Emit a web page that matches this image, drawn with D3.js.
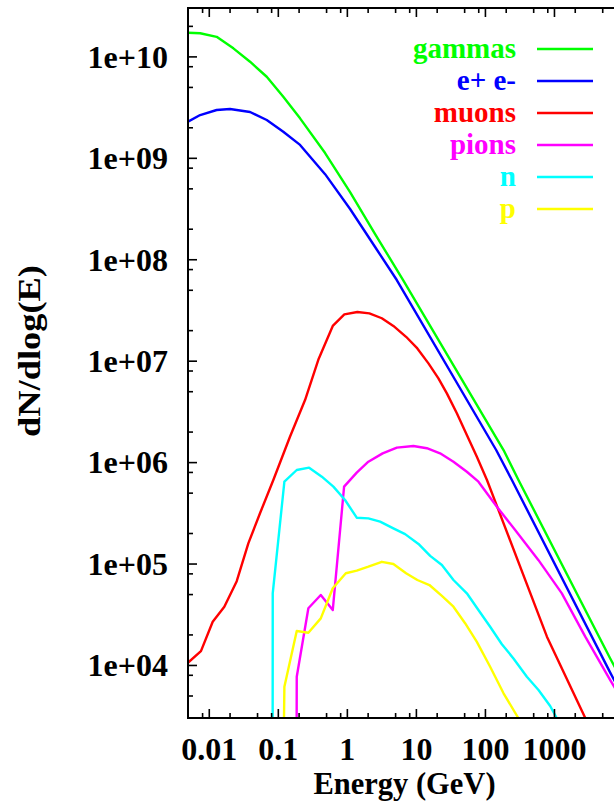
<!DOCTYPE html>
<html>
<head>
<meta charset="utf-8">
<script src="https://cdn.jsdelivr.net/npm/d3@7"></script>
<style>
  html, body { margin: 0; padding: 0; background: #fff; }
  svg { display: block; }
  text { font-family: "Liberation Serif", "DejaVu Serif", serif; font-weight: bold; }
</style>
</head>
<body>
<svg id="chart" width="614" height="803"></svg>
<script>
// Particle spectra: energy (GeV) vs dN/dlog(E), one [E, value] list per species.
const gammas = [
  [0.005, 1.71e10], [0.0075, 1.69e10], [0.013, 1.56e10], [0.0227, 1.20e10],
  [0.0396, 8.86e9], [0.0691, 6.30e9], [0.120, 4.0e9], [0.21, 2.45e9],
  [0.484, 1.115e9], [1.114, 4.6e8], [2.566, 1.77e8], [6.53, 6.24e7],
  [186, 1.315e6], [306, 6.67e5], [6530, 1.16e4], [11000, 6.0e3]
];
const electrons = [
  [0.005, 2.27e9], [0.0075, 2.64e9], [0.013, 2.96e9], [0.0203, 3.03e9],
  [0.0396, 2.83e9], [0.0691, 2.36e9], [0.120, 1.81e9], [0.21, 1.34e9],
  [0.484, 6.9e8], [1.114, 3.13e8], [2.566, 1.32e8], [5.29, 6.24e7],
  [145.5, 1.316e6], [245.7, 6.66e5], [6530, 8.4e3], [11000, 4.3e3]
];
const muons = [
  [0.00489, 1.04e4], [0.0077, 1.37e4], [0.0114, 2.67e4], [0.0168, 3.75e4],
  [0.0254, 6.7e4], [0.0374, 1.58e5], [0.0552, 3.13e5], [0.0861, 6.67e5],
  [0.150, 1.78e6], [0.248, 4.09e6], [0.386, 1.02e7], [0.625, 2.2e7],
  [0.92, 2.86e7], [1.42, 3.02e7], [2.12, 2.93e7], [3.21, 2.62e7],
  [4.72, 2.2e7], [7.21, 1.72e7], [10.5, 1.32e7], [15.2, 9.4e6],
  [21.2, 6.7e6], [28.1, 4.76e6], [39.2, 3.03e6], [54.7, 1.85e6],
  [76.4, 1.13e6], [107, 6.67e5], [791, 1.9e4], [2840, 3.0e3], [4680, 890]
];
const pions = [
  [0.186, 300], [0.188, 7.66e3], [0.277, 3.62e4], [0.419, 4.9e4],
  [0.625, 3.48e4], [0.912, 5.73e5], [1.39, 7.87e5], [2.05, 1.01e6],
  [3.3, 1.22e6], [5.3, 1.39e6], [9.2, 1.44e6], [14.4, 1.37e6],
  [22.4, 1.22e6], [35, 1.01e6], [54.7, 8.04e5], [80.5, 6.41e5],
  [149, 3.63e5], [274, 2.14e5], [597, 1.08e5], [1300, 5.08e4],
  [2840, 1.9e4], [6530, 7.1e3], [11000, 3.9e3]
];
const neutrons = [
  [0.0840, 300], [0.0844, 5.09e4], [0.1245, 6.41e5], [0.188, 8.36e5],
  [0.284, 8.81e5], [0.434, 7.18e5], [0.638, 5.73e5], [0.942, 4.23e5],
  [1.39, 2.83e5], [2.05, 2.79e5], [3.03, 2.59e5], [4.72, 2.22e5],
  [6.98, 1.95e5], [10.9, 1.56e5], [16.1, 1.19e5], [23.8, 9.66e4],
  [35, 6.88e4], [54.7, 5.09e4], [80.5, 3.48e4], [119, 2.38e4],
  [176, 1.6e4], [259, 1.16e4], [405, 7.66e3], [597, 5.66e3],
  [881, 3.94e3], [1100, 2.98e3], [1320, 1.8e3]
];
const protons = [
  [0.119, 500], [0.1245, 6.1e3], [0.188, 2.16e4], [0.277, 2.08e4],
  [0.419, 2.88e4], [0.625, 5.7e4], [0.966, 8.02e4], [1.39, 8.5e4],
  [2.05, 9.3e4], [3.21, 1.04e5], [4.72, 9.9e4], [7.21, 8.02e4],
  [10.5, 6.88e4], [15.7, 6.14e4], [23.8, 4.79e4], [35, 3.75e4],
  [51.6, 2.58e4], [76.4, 1.69e4], [119, 9.6e3], [186, 5.26e3],
  [306, 2.98e3], [383, 2.0e3]
];

const seriesNames = ["gammas", "e+ e-", "muons", "pions", "n", "p"];
const seriesColors = ["#00ff00", "#0000ff", "#ff0000", "#ff00ff", "#00ffff", "#ffff00"];
const seriesData = [gammas, electrons, muons, pions, neutrons, protons];

const energyTicks = [0.01, 0.1, 1, 10, 100, 1000];
const energyTickLabels = ["0.01", "0.1", "1", "10", "100", "1000"];
const countTicks = [1e4, 1e5, 1e6, 1e7, 1e8, 1e9, 1e10];
const countTickLabels = ["1e+04", "1e+05", "1e+06", "1e+07", "1e+08", "1e+09", "1e+10"];
const minorMultipliers = [2, 5, 8];

const xTitle = "Energy (GeV)";
const yTitle = "dN/dlog(E)";

// Plot frame
const plot = { left: 188, right: 623, top: 8, bottom: 718 };
const svg = d3.select("#chart");

const x = d3.scaleLog().domain([0.005, 1e4]).range([plot.left, plot.right]);
const y = d3.scaleLog().domain([3e3, 3e10]).range([plot.bottom, plot.top]);

function minorsFor(domain) {
  const out = [];
  const lo = Math.floor(Math.log10(domain[0])), hi = Math.ceil(Math.log10(domain[1]));
  for (let e = lo; e <= hi; e++) {
    minorMultipliers.forEach(m => {
      const v = m * Math.pow(10, e);
      if (v > domain[0] && v < domain[1]) out.push(v);
    });
  }
  return out;
}
const xMinor = minorsFor(x.domain());
const yMinor = minorsFor(y.domain());

svg.append("defs").append("clipPath").attr("id", "plot-clip")
  .append("rect")
  .attr("x", plot.left).attr("y", plot.top)
  .attr("width", plot.right - plot.left).attr("height", plot.bottom - plot.top);

// Curves
const line = d3.line().x(d => x(d[0])).y(d => y(d[1]));
const curves = svg.append("g").attr("clip-path", "url(#plot-clip)");
seriesData.forEach((data, i) => {
  curves.append("path")
    .datum(data)
    .attr("d", line)
    .attr("fill", "none")
    .attr("stroke", seriesColors[i])
    .attr("stroke-width", 2.4)
    .attr("stroke-linejoin", "round");
});

// Ticks on all four sides, pointing into the plot
function styleAxis(g) {
  g.select(".domain").remove();
  g.selectAll(".tick line").attr("stroke", "#000").attr("stroke-width", 1.6);
}
const majorLen = 9, minorLen = 5;
const labelFont = 32;
const legendFont = 29;

svg.append("g").attr("transform", `translate(0,${plot.bottom})`)
  .call(d3.axisBottom(x).tickValues(xMinor).tickSize(-minorLen).tickFormat(""))
  .call(styleAxis);
const xAxisMajor = svg.append("g").attr("transform", `translate(0,${plot.bottom})`)
  .call(d3.axisBottom(x).tickValues(energyTicks).tickSize(-majorLen).tickPadding(0)
    .tickFormat((d, i) => energyTickLabels[i]))
  .call(styleAxis);
xAxisMajor.selectAll(".tick text")
  .attr("y", 42).attr("dy", null)
  .attr("fill", "#000").attr("font-size", labelFont)
  .style("font-family", "'Liberation Serif', serif").style("font-weight", "bold");

svg.append("g").attr("transform", `translate(0,${plot.top})`)
  .call(d3.axisTop(x).tickValues(xMinor).tickSize(-minorLen).tickFormat(""))
  .call(styleAxis);
svg.append("g").attr("transform", `translate(0,${plot.top})`)
  .call(d3.axisTop(x).tickValues(energyTicks).tickSize(-majorLen).tickFormat(""))
  .call(styleAxis);

svg.append("g").attr("transform", `translate(${plot.left},0)`)
  .call(d3.axisLeft(y).tickValues(yMinor).tickSize(-minorLen).tickFormat(""))
  .call(styleAxis);
const yAxisMajor = svg.append("g").attr("transform", `translate(${plot.left},0)`)
  .call(d3.axisLeft(y).tickValues(countTicks).tickSize(-majorLen).tickPadding(20)
    .tickFormat((d, i) => countTickLabels[i]))
  .call(styleAxis);
yAxisMajor.selectAll(".tick text")
  .attr("x", -20).attr("dy", "0.34em")
  .attr("fill", "#000").attr("font-size", labelFont)
  .style("font-family", "'Liberation Serif', serif").style("font-weight", "bold");

svg.append("g").attr("transform", `translate(${plot.right},0)`)
  .call(d3.axisRight(y).tickValues(yMinor).tickSize(-minorLen).tickFormat(""))
  .call(styleAxis);
svg.append("g").attr("transform", `translate(${plot.right},0)`)
  .call(d3.axisRight(y).tickValues(countTicks).tickSize(-majorLen).tickFormat(""))
  .call(styleAxis);

// Frame
svg.append("rect")
  .attr("x", plot.left).attr("y", plot.top)
  .attr("width", plot.right - plot.left).attr("height", plot.bottom - plot.top)
  .attr("fill", "none").attr("stroke", "#000").attr("stroke-width", 2);

// Axis titles
svg.append("text")
  .attr("x", (plot.left + plot.right) / 2 - 1).attr("y", 794)
  .attr("text-anchor", "middle").attr("font-size", 30.5)
  .text(xTitle);
svg.append("text")
  .attr("transform", "translate(40,351) rotate(-90)")
  .attr("text-anchor", "middle").attr("font-size", 32)
  .attr("textLength", 172).attr("lengthAdjust", "spacingAndGlyphs")
  .text(yTitle);

// Legend
const legend = svg.append("g");
const legendTop = 49, legendStep = 32;
seriesNames.forEach((name, i) => {
  const ly = legendTop + i * legendStep;
  legend.append("text")
    .attr("x", 516).attr("y", ly + 9)
    .attr("text-anchor", "end").attr("font-size", legendFont)
    .attr("fill", seriesColors[i])
    .text(name);
  legend.append("line")
    .attr("x1", 537).attr("x2", 593).attr("y1", ly).attr("y2", ly)
    .attr("stroke", seriesColors[i]).attr("stroke-width", 2.4);
});
</script>
</body>
</html>
